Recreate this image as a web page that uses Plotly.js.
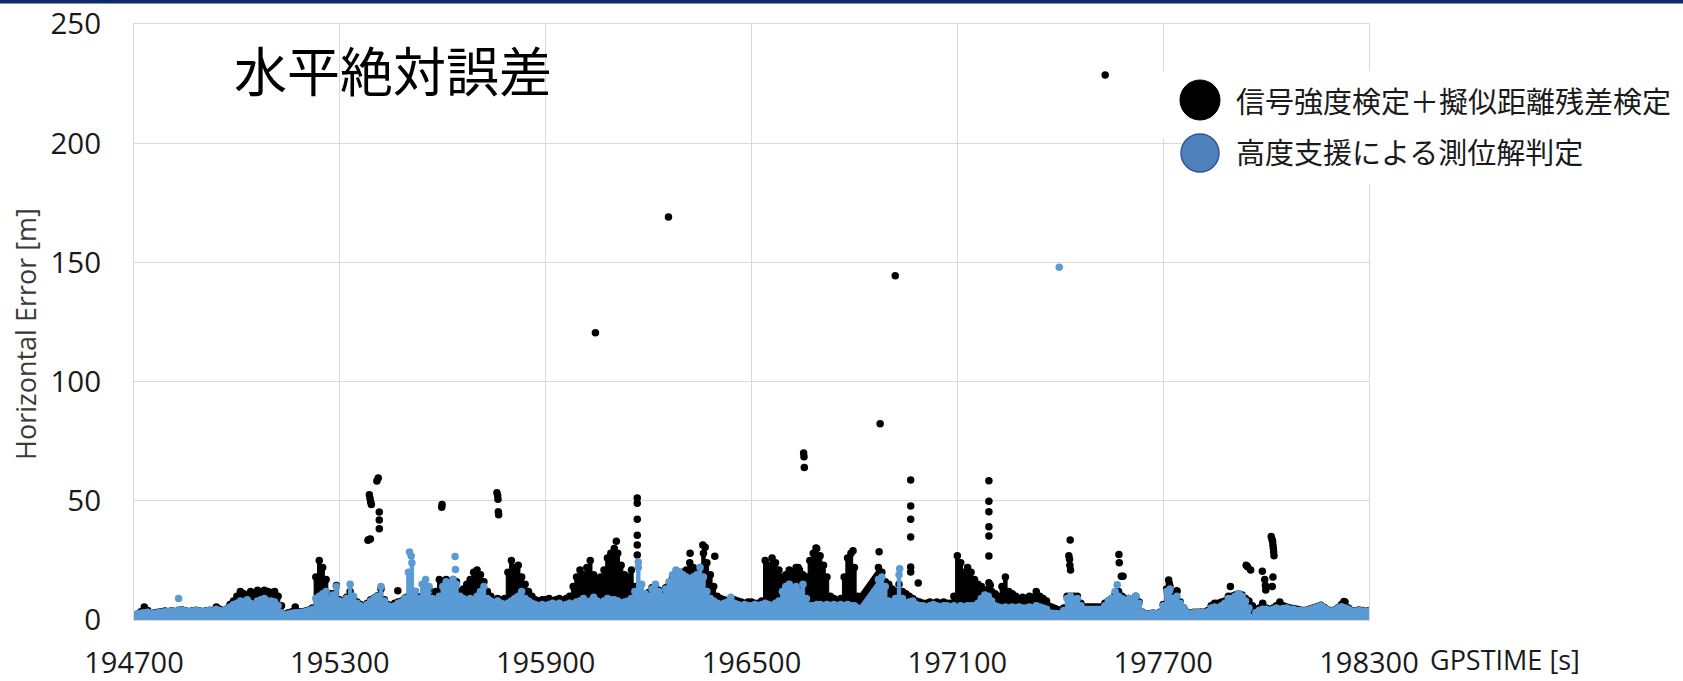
<!DOCTYPE html>
<html>
<head>
<meta charset="utf-8">
<script src="https://cdn.plot.ly/plotly-3.0.1.min.js"></script>
<style>
html, body { margin: 0; padding: 0; background: #ffffff; }
#chart { width: 1683px; height: 681px; }
</style>
</head>
<body>
<div id="chart"></div>
<script>
// ---- data ----
// GPS time of each sample of the dense bands [s]
const gpsTime = [
  194700,194710,194720,194730,194740,194750,194760,194770,194780,194790,
  194800,194810,194820,194830,194840,194850,194860,194870,194880,194890,
  194900,194910,194920,194930,194940,194950,194960,194970,194980,194990,
  195000,195010,195020,195030,195040,195050,195060,195070,195080,195090,
  195100,195110,195120,195130,195140,195150,195160,195170,195180,195190,
  195200,195210,195220,195230,195240,195250,195260,195270,195280,195290,
  195300,195310,195320,195330,195340,195350,195360,195370,195380,195390,
  195400,195410,195420,195430,195440,195450,195460,195470,195480,195490,
  195500,195510,195520,195530,195540,195550,195560,195570,195580,195590,
  195600,195610,195620,195630,195640,195650,195660,195670,195680,195690,
  195700,195710,195720,195730,195740,195750,195760,195770,195780,195790,
  195800,195810,195820,195830,195840,195850,195860,195870,195880,195890,
  195900,195910,195920,195930,195940,195950,195960,195970,195980,195990,
  196000,196010,196020,196030,196040,196050,196060,196070,196080,196090,
  196100,196110,196120,196130,196140,196150,196160,196170,196180,196190,
  196200,196210,196220,196230,196240,196250,196260,196270,196280,196290,
  196300,196310,196320,196330,196340,196350,196360,196370,196380,196390,
  196400,196410,196420,196430,196440,196450,196460,196470,196480,196490,
  196500,196510,196520,196530,196540,196550,196560,196570,196580,196590,
  196600,196610,196620,196630,196640,196650,196660,196670,196680,196690,
  196700,196710,196720,196730,196740,196750,196760,196770,196780,196790,
  196800,196810,196820,196830,196840,196850,196860,196870,196880,196890,
  196900,196910,196920,196930,196940,196950,196960,196970,196980,196990,
  197000,197010,197020,197030,197040,197050,197060,197070,197080,197090,
  197100,197110,197120,197130,197140,197150,197160,197170,197180,197190,
  197200,197210,197220,197230,197240,197250,197260,197270,197280,197290,
  197300,197310,197320,197330,197340,197350,197360,197370,197380,197390,
  197400,197410,197420,197430,197440,197450,197460,197470,197480,197490,
  197500,197510,197520,197530,197540,197550,197560,197570,197580,197590,
  197600,197610,197620,197630,197640,197650,197660,197670,197680,197690,
  197700,197710,197720,197730,197740,197750,197760,197770,197780,197790,
  197800,197810,197820,197830,197840,197850,197860,197870,197880,197890,
  197900,197910,197920,197930,197940,197950,197960,197970,197980,197990,
  198000,198010,198020,198030,198040,198050,198060,198070,198080,198090,
  198100,198110,198120,198130,198140,198150,198160,198170,198180,198190,
  198200,198210,198220,198230,198240,198250,198260,198270,198280,198290,
  198300
];

// 信号強度検定＋擬似距離残差検定 : upper edge of the dense band [m]
const blackTop = [
  1.5,2.5,3.5,5.5,4,2.5,3,3.2,3.5,3.8,
  3.6,3.9,3.6,4.1,4.3,3.9,3.6,3.9,4.1,3.9,
  3.6,3.9,4.1,3.6,5.5,4.5,3.9,4.6,6.5,8,
  10,12,11,10.5,12,11,12.5,11.5,12.5,12,
  11.5,12,10,6,2.5,3,3.5,5.5,3.5,3.5,
  3.8,4.2,5,18,25,22,17,11,11,14.5,
  8.5,7.5,9.5,12,9,7.5,6.5,5.5,7,8.5,
  9.2,10.2,13,8.5,6.5,6,7,7.5,8,9.2,
  10,10,12,9.5,10,12,13,10,12,17,
  16,17,15,17,16,12,13,15,17,20,
  21,19,16,12,10,8,9,8,9,20,
  25,22,23,18,15,12,10,8.5,8,8.5,
  8.5,9,8,8.5,9,8,9,10,14,18,
  21,19,22,25,19,17,18,21,26,28,
  30,28,23,19,18,21,14,12,10,9,
  11.5,13.5,14,12.5,11,13.5,15,18,20,20,
  20,21,24,22,21,22,28,24,19,14,
  10,9,8.5,8,9,8.5,8,7.5,7,7.5,
  7.5,7,7,8,25,23,26,24,21,18,
  19,21,20,22,21,19,18,25,28,30,
  27,23,18,10,9,8,9,18,26,28,
  22,10,null,null,null,null,null,22,20,16,
  15,13,12,15,12,11,10,9,8,7.5,
  7,7,7.5,7,7.5,7,7.5,7,7,10,
  27,24,20,22,20,17,15,14,12,13,
  12,11,10,14,18,12,11,10,9,9.5,
  9,10,9.5,12,10,9,8,null,null,null,
  null,5,10,10,10,10,7,null,null,null,
  null,null,null,7,8,9,11,12,10,9,
  9,8.5,10,7.5,3.2,2.6,2.6,2.9,2.6,3.2,
  6.5,13,14,10,12,7.5,5,3.2,3,3.2,
  3.2,3.4,3.2,4,6,7,7,7.5,8,10,
  10,10.5,11,10.5,9,8,6,4,5,7,
  5,4.5,5,6,7.5,6,5.5,5,4.8,4.5,
  4.2,4,4.2,4.7,5.2,5.7,6.2,5.2,4.2,4,
  4.2,5.2,6.5,7.5,5,4,3.7,4.2,4,3.7,
  4
];

// 高度支援による測位解判定 : upper edge of the dense band [m]
const blueTop = [
  1.5,2.5,2.8,3,3.2,2.5,2.8,3,3.2,3.5,
  3.5,3.8,3.5,4,4.2,3.8,3.5,3.8,4,3.8,
  3.5,3.8,4,3.5,4.5,4,3.8,4.5,5.5,6.5,
  7,8,7.5,8.5,7,6,8,8.5,9,8,
  8,7.5,6,3,2,2.5,2.8,3,3,3.2,
  3.5,4,4.5,9,10,11,12,9,10.5,14,
  8,7,9,15,10,7,6,5,6.5,8,
  9,10,14,8,6,5.5,6,7,7.5,9,
  20,24,12,9,15,17,14,9,8,10,
  14,16,15,17,15,10,9,8,9,8,
  10,12,14,9,8,7,8,7,6.5,7,
  8,9,10,12,9,8,7,6.5,6,6.5,
  6,6.5,7,6.5,7,6,6.5,7,6.5,7.5,
  8,9,7.5,8,9.5,8,7,8,9,8.5,
  8.5,8,7,7.5,8,9,12,22,15,11,
  10,13,15,12,10,13,16,19,21,20,
  19,18,17,18,19,22,18,12,9,8,
  7,6.5,7,7.5,9.5,7,6.5,6,6.5,6,
  6,6.5,6,6.5,7,6.5,6,7,8,12,
  14,15,13,14,12,15,9,6,6,6.5,
  6.5,6,6.5,6,6.5,6,6.5,6,6.5,6,
  6,5,null,null,null,null,null,17,18,14,
  8,7,9,19,9,7,7.5,8,6.5,6,
  6,5.5,6,6.5,6,5.5,6,6,5.5,6,
  5,6,5.5,6,6,6,7,9,10.5,10,
  8,6,5.5,5,5.5,5,5.5,5,5.5,5,
  5,5.5,5,6,5.5,5,4.5,null,null,null,
  null,4,9,10,8,9,6,null,null,null,
  null,null,null,6,8,9,12,10,9,8,
  9,8,10,7,3,2.5,2.5,2.8,2.5,3,
  6,12,13,9,10,7,5,3,2.8,3,
  3,3.2,3,3.5,5,5.5,5,6,7,9,
  9,10,11,10,8,5,1,3,4,4.5,
  4.5,4,4.5,5,4.5,4.8,5,4.5,4.5,4,
  4,3.8,4,4.5,5,5.5,6,5,4,3.8,
  4,5,5.6,5,4.5,3.8,3.5,4,3.8,3.5,
  3.8
];

// isolated points standing out of the bands
const blackDotTime = [
  196045,196258,196919,196875,197531,
  196652,196653,196654,
  195385,195382,195389,195386,195388,195390,195392,195408,195412,195415,195415,195415,
  195469,195597,195598,
  195758,195760,195761,195762,195763,
  196106,
  196167,196167,196167,196167,196167,196167,
  196321,196358,196365,196393,196636,196688,196796,196872,
  196964,196964,196964,196964,196964,196964,196986,
  197192,197192,197192,197192,197192,197192,197192,197196,
  197429,197425,197427,197428,197430,
  197571,197572,197578,197583,
  197716,197718,197740,197896,
  197942,197946,197955,197989,197996,197998,197999,
  198015,198017,198019,198020,198021,198022,198023,198020,198018,
  198227
];
const blackDotValue = [
  120.5,169,144.4,82.3,228.6,
  70,68.5,64,
  33.8,33.4,34,52.5,51,49.5,48.5,58.3,59.6,45.3,41.9,38.3,
  12.3,47.3,48.4,
  53.4,52.2,50.6,45.4,44.2,
  33,
  51.2,49,42.3,35.6,31.5,27.3,
  28,31.5,30.5,26.7,22,30.2,29,28.6,
  58.7,47.8,42.3,34.8,22.2,20.1,15.5,
  58.4,49.8,45.4,39.1,35.2,26.8,15.6,14.6,
  33.6,27,25.5,23,21,
  27.5,24,18.3,18.3,
  16.8,15.2,12.3,14,
  23,22.3,21,20.4,17,14.5,12.6,
  35,34,33,31.5,30,28.5,27,18,14,
  7.8
];
const blueDotTime = [194830,195503,195508,195636,195637,196170,196932,197397,197566];
const blueDotValue = [9,28.5,26.8,26.6,21.2,24.3,21.5,148,14.8];

const xTickValues = [194700,195300,195900,196500,197100,197700,198300];
const yTickValues = [0,50,100,150,200,250];
const chartTitle = "水平絶対誤差";
const seriesNames = ["信号強度検定＋擬似距離残差検定", "高度支援による測位解判定"];
const xAxisTitle = "GPSTIME [s]";
const yAxisTitle = "Horizontal Error [m]";

// ---- styling / layout ----
const W = 1683, H = 681;
const PL = 134, PR = 1369, PT = 24, PB = 620;
const px2x = (px) => (px - PL) / (PR - PL);
const py2y = (py) => (PB - py) / (PB - PT);

const BLACK = "#000000";
const BLUE = "#5b9bd5";
const LATIN = "'Open Sans', 'Noto Sans', sans-serif";
const CJK = "'Noto Sans CJK JP', 'Noto Sans', sans-serif";

const traces = [
  {
    x: gpsTime, y: blackTop, type: "scatter", mode: "lines+markers",
    fill: "tozeroy", fillcolor: BLACK, connectgaps: false,
    line: { color: BLACK, width: 1, shape: "hvh" },
    marker: { color: BLACK, size: 7.5, line: { width: 0 } },
    name: seriesNames[0], showlegend: false, hoverinfo: "skip"
  },
  {
    x: blackDotTime, y: blackDotValue, type: "scatter", mode: "markers",
    marker: { color: BLACK, size: 7.5, line: { width: 0 } },
    name: seriesNames[0], showlegend: false, hoverinfo: "skip"
  },
  {
    x: gpsTime, y: blueTop, type: "scatter", mode: "lines+markers",
    fill: "tozeroy", fillcolor: BLUE, connectgaps: false,
    line: { color: BLUE, width: 1, shape: "hvh" },
    marker: { color: BLUE, size: 7.5, line: { width: 0 } },
    name: seriesNames[1], showlegend: false, hoverinfo: "skip"
  },
  {
    x: blueDotTime, y: blueDotValue, type: "scatter", mode: "markers",
    marker: { color: BLUE, size: 7.5, line: { width: 0 } },
    name: seriesNames[1], showlegend: false, hoverinfo: "skip"
  }
];

const shapes = [
  // dark band at top of slide
  { type: "rect", xref: "paper", yref: "paper", layer: "above",
    x0: px2x(0), x1: px2x(W), y0: py2y(3.5), y1: py2y(-1),
    fillcolor: "#0f2b6b", line: { width: 0 } },
  // legend backgrounds
  { type: "rect", xref: "paper", yref: "paper", layer: "above",
    x0: px2x(1160), x1: px2x(W + 2), y0: py2y(138), y1: py2y(71),
    fillcolor: "#ffffff", line: { width: 0 } },
  { type: "rect", xref: "paper", yref: "paper", layer: "above",
    x0: px2x(1182), x1: px2x(W + 2), y0: py2y(184), y1: py2y(138),
    fillcolor: "#ffffff", line: { width: 0 } },
  // legend symbols
  { type: "circle", xref: "paper", yref: "paper", layer: "above",
    x0: px2x(1180), x1: px2x(1220), y0: py2y(120), y1: py2y(80),
    fillcolor: BLACK, line: { color: BLACK, width: 1 } },
  { type: "circle", xref: "paper", yref: "paper", layer: "above",
    x0: px2x(1181), x1: px2x(1219), y0: py2y(172), y1: py2y(134),
    fillcolor: "#4f81bd", line: { color: "#2f5597", width: 1.5 } }
];

const annotations = [
  { text: chartTitle, xref: "paper", yref: "paper", x: px2x(393), y: py2y(69),
    xanchor: "center", yanchor: "middle", showarrow: false,
    font: { family: CJK, size: 53, color: "#000000" } },
  { text: seriesNames[0], xref: "paper", yref: "paper", x: px2x(1234), y: py2y(100),
    xanchor: "left", yanchor: "middle", showarrow: false,
    font: { family: CJK, size: 29, color: "#1a1a1a" } },
  { text: seriesNames[1], xref: "paper", yref: "paper", x: px2x(1234), y: py2y(151),
    xanchor: "left", yanchor: "middle", showarrow: false,
    font: { family: CJK, size: 29, color: "#1a1a1a" } },
  { text: xAxisTitle, xref: "paper", yref: "paper", x: px2x(1428), y: py2y(660),
    xanchor: "left", yanchor: "middle", showarrow: false,
    font: { family: LATIN, size: 27, color: "#1a1a1a" } },
  { text: yAxisTitle, xref: "paper", yref: "paper", x: px2x(25), y: py2y(334),
    xanchor: "center", yanchor: "middle", textangle: -90, showarrow: false,
    font: { family: LATIN, size: 27, color: "#3a3a3a" } }
];

const layout = {
  width: W, height: H,
  margin: { l: PL, r: W - PR, t: PT, b: H - PB, pad: 0 },
  paper_bgcolor: "#ffffff", plot_bgcolor: "#ffffff",
  showlegend: false,
  xaxis: {
    range: [194700, 198300], tickvals: xTickValues, ticktext: xTickValues.map(String),
    showgrid: true, gridcolor: "#d9d9d9", gridwidth: 1, zeroline: false,
    showline: true, mirror: true, linecolor: "#d9d9d9", linewidth: 1,
    ticks: "", ticklabelstandoff: 17, automargin: false,
    tickfont: { family: LATIN, size: 29, color: "#1a1a1a" }
  },
  yaxis: {
    range: [0, 250], tickvals: yTickValues, ticktext: yTickValues.map(String),
    showgrid: true, gridcolor: "#d9d9d9", gridwidth: 1, zeroline: false,
    showline: true, mirror: true, linecolor: "#d9d9d9", linewidth: 1,
    ticks: "", ticklabelstandoff: 26, automargin: false,
    tickfont: { family: LATIN, size: 29.5, color: "#1a1a1a" }
  },
  shapes: shapes,
  annotations: annotations
};

Plotly.newPlot("chart", traces, layout, { staticPlot: true, displayModeBar: false });
</script>
</body>
</html>
